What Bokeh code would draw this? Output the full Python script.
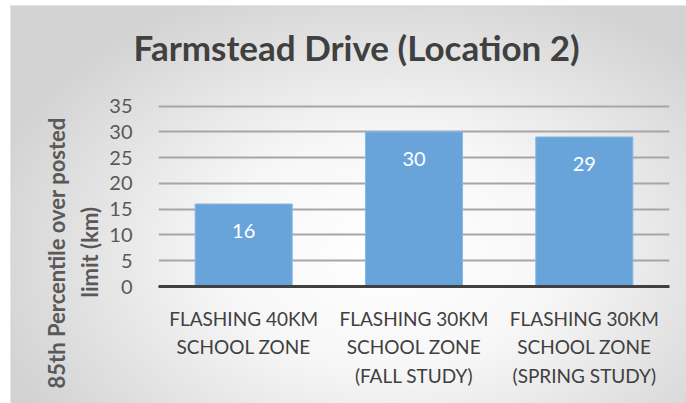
from bokeh.plotting import figure
from bokeh.models import ColumnDataSource, Title
from bokeh.core.properties import value
from bokeh.embed import file_html
from bokeh.resources import INLINE

chart_title = "Farmstead Drive (Location 2)"
categories = ["FLASHING 40KM\nSCHOOL ZONE", "FLASHING 30KM\nSCHOOL ZONE\n(FALL STUDY)", "FLASHING 30KM\nSCHOOL ZONE\n(SPRING STUDY)"]
values = [16, 30, 29]
value_labels = [str(v) for v in values]
y_ticks = [0, 5, 10, 15, 20, 25, 30, 35]
y_label_lines = ["85th Percentile over posted", "limit (km)"]

src = ColumnDataSource(dict(cat=categories, val=values, lab=value_labels))

FONT = "Lato"

p = figure(width=676, height=398, x_range=categories, y_range=(0, 35.3),
           output_backend="svg", toolbar_location=None,
           min_border_left=147, min_border_right=18, min_border_top=98, min_border_bottom=118)

p.border_fill_color = None
p.background_fill_color = None
p.outline_line_color = None
p.styles = {"background": "radial-gradient(ellipse 62% 72% at 56% 62%, #ffffff 0%, #f7f7f7 40%, #d2d2d2 100%)",
            "margin-left": "10px", "margin-top": "5px",
            "border-top": "1px solid #e4e4e4", "border-left": "1px solid #e4e4e4"}

# built-in title left empty; title drawn by side titles added above
p.title.text = ""
p.title.standoff = 0

spacer = Title(text=" ", text_font_size="2px", standoff=31)
p.add_layout(spacer, "above")
main_title = Title(text=chart_title, align="left", offset=-25, vertical_align="top", standoff=0,
                   text_font=FONT, text_font_size="35px", text_font_style="bold", text_color="#404040")
p.add_layout(main_title, "above")

p.vbar(x="cat", top="val", width=0.57, source=src, fill_color="#68a3d9", line_color="#8ab8e4", line_width=1)
p.text(x="cat", y="val", text="lab", source=src, text_align="center", text_baseline="middle",
       y_offset=27, text_color="white", text_font=value(FONT), text_font_size="20px")

p.xgrid.grid_line_color = None
p.ygrid.grid_line_color = "#a6a6a6"
p.ygrid.grid_line_width = 2
p.ygrid.ticker = y_ticks

p.yaxis.ticker = y_ticks
p.yaxis.axis_line_color = None
p.yaxis.major_tick_line_color = None
p.yaxis.minor_tick_line_color = None
p.yaxis.major_label_text_font = FONT
p.yaxis.major_label_text_font_size = "20px"
p.yaxis.major_label_text_color = "#595959"
p.yaxis.major_label_standoff = 20

# y-axis label as two side titles (second line nearer the axis)
for text, off, so in [(y_label_lines[1], -11, 8), (y_label_lines[0], -102, 0)]:
    t = Title(text=text, align="left", offset=off, standoff=so,
              text_font=FONT, text_font_size="22px", text_font_style="bold",
              text_color="#595959")
    p.add_layout(t, "left")

p.xaxis.axis_line_color = "#404040"
p.xaxis.axis_line_width = 3
p.xaxis.major_tick_line_color = None
p.xaxis.minor_tick_line_color = None
p.xaxis.major_label_text_font = FONT
p.xaxis.major_label_text_font_size = "19px"
p.xaxis.major_label_text_color = "#404040"
p.xaxis.major_label_standoff = 14
p.xaxis.major_label_text_line_height = 1.25

open("out.html", "w").write(file_html(p, INLINE))
